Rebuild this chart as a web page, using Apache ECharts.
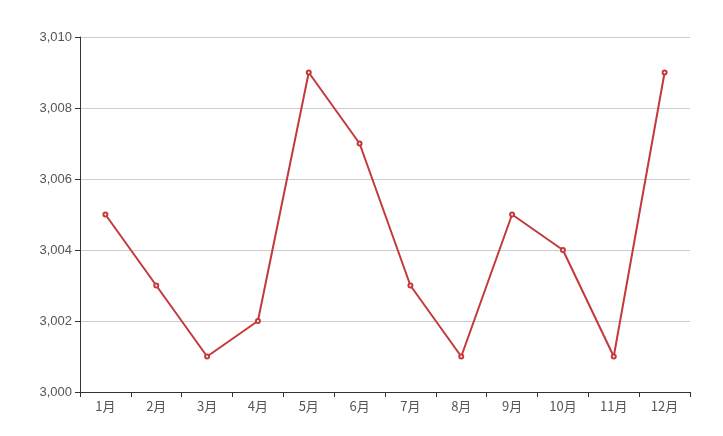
<!DOCTYPE html>
<html>
<head>
<meta charset="utf-8">
<script src="https://cdn.jsdelivr.net/npm/echarts@6/dist/echarts.min.js"></script>
<style>html,body{margin:0;padding:0;background:#fff}#main{width:723px;height:436px}</style>
</head>
<body>
<div id="main"></div>
<script>
// 月份
const months = ['1月','2月','3月','4月','5月','6月','7月','8月','9月','10月','11月','12月']
// 数值
const values = [3005,3003,3001,3002,3009,3007,3003,3001,3005,3004,3001,3009]

const myChart = echarts.init(document.querySelector('#main'))
const option = {
  grid: { left: 80, right: 33, top: 37, bottom: 44 },
  xAxis: {
    type: 'category',
    data: months,
    axisLine: { lineStyle: { color: '#333' } },
    axisTick: { show: true },
    axisLabel: { color: '#555', fontFamily: 'Noto Sans CJK SC', fontSize: 13 }
  },
  yAxis: {
    type: 'value',
    min: 3000,
    max: 3010,
    interval: 2,
    axisLine: { show: true, lineStyle: { color: '#333' } },
    axisTick: { show: true },
    axisLabel: { color: '#555', fontSize: 13 },
    splitLine: { lineStyle: { color: '#ccc' } }
  },
  series: [{
    type: 'line',
    data: values,
    symbol: 'emptyCircle',
    symbolSize: 4,
    itemStyle: { color: '#c4393a' },
    lineStyle: { width: 2, color: '#c4393a' }
  }]
}
myChart.setOption(option)
</script>
</body>
</html>
